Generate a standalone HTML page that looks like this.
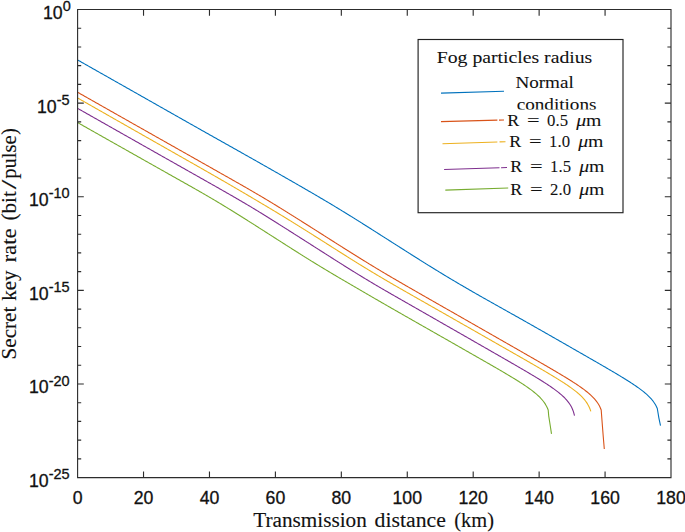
<!DOCTYPE html>
<html><head><meta charset="utf-8"><title>Secret key rate vs transmission distance</title>
<style>
html,body{margin:0;padding:0;background:#fff;}
body{width:685px;height:532px;overflow:hidden;font-family:"Liberation Sans",sans-serif;}
svg{display:block;}
.sans{font-family:"Liberation Sans",sans-serif;}
.serif{font-family:"Liberation Serif",serif;}
</style></head><body>
<svg width="685" height="532" viewBox="0 0 685 532">
<rect width="685" height="532" fill="#fff"/>
<g fill="none" stroke-width="1.1" stroke-linejoin="round" stroke-linecap="butt">
<path d="M77.50,59.90 L78.50,60.47 L79.50,61.03 L80.50,61.60 L81.50,62.17 L82.50,62.73 L83.50,63.30 L84.50,63.86 L85.50,64.43 L86.50,65.00 L87.50,65.56 L88.50,66.13 L89.50,66.70 L90.50,67.26 L91.50,67.83 L92.50,68.40 L93.50,68.96 L94.50,69.53 L95.50,70.09 L96.50,70.66 L97.50,71.23 L98.50,71.79 L99.50,72.36 L100.50,72.93 L101.50,73.49 L102.50,74.06 L103.50,74.63 L104.50,75.19 L105.50,75.76 L106.50,76.32 L107.50,76.89 L108.50,77.46 L109.50,78.02 L110.50,78.59 L111.50,79.16 L112.50,79.72 L113.50,80.29 L114.50,80.86 L115.50,81.42 L116.50,81.99 L117.50,82.56 L118.50,83.12 L119.50,83.69 L120.50,84.25 L121.50,84.82 L122.50,85.39 L123.50,85.95 L124.50,86.52 L125.50,87.09 L126.50,87.65 L127.50,88.22 L128.50,88.79 L129.50,89.35 L130.50,89.92 L131.50,90.49 L132.50,91.05 L133.50,91.62 L134.50,92.19 L135.50,92.75 L136.50,93.32 L137.50,93.89 L138.50,94.45 L139.50,95.02 L140.50,95.59 L141.50,96.15 L142.50,96.72 L143.50,97.29 L144.50,97.85 L145.50,98.42 L146.50,98.99 L147.50,99.56 L148.50,100.12 L149.50,100.69 L150.50,101.26 L151.50,101.82 L152.50,102.39 L153.50,102.96 L154.50,103.52 L155.50,104.09 L156.50,104.66 L157.50,105.23 L158.50,105.79 L159.50,106.36 L160.50,106.93 L161.50,107.50 L162.50,108.06 L163.50,108.63 L164.50,109.20 L165.50,109.76 L166.50,110.33 L167.50,110.90 L168.50,111.47 L169.50,112.03 L170.50,112.60 L171.50,113.17 L172.50,113.73 L173.50,114.30 L174.50,114.87 L175.50,115.43 L176.50,116.00 L177.50,116.57 L178.50,117.14 L179.50,117.70 L180.50,118.27 L181.50,118.84 L182.50,119.40 L183.50,119.97 L184.50,120.53 L185.50,121.10 L186.50,121.67 L187.50,122.23 L188.50,122.80 L189.50,123.37 L190.50,123.93 L191.50,124.50 L192.50,125.06 L193.50,125.63 L194.50,126.19 L195.50,126.76 L196.50,127.32 L197.50,127.89 L198.50,128.45 L199.50,129.02 L200.50,129.58 L201.50,130.15 L202.50,130.71 L203.50,131.28 L204.50,131.84 L205.50,132.40 L206.50,132.97 L207.50,133.53 L208.50,134.09 L209.50,134.66 L210.50,135.22 L211.50,135.78 L212.50,136.35 L213.50,136.91 L214.50,137.47 L215.50,138.04 L216.50,138.60 L217.50,139.16 L218.50,139.72 L219.50,140.29 L220.50,140.85 L221.50,141.41 L222.50,141.97 L223.50,142.54 L224.50,143.10 L225.50,143.66 L226.50,144.22 L227.50,144.79 L228.50,145.35 L229.50,145.91 L230.50,146.47 L231.50,147.04 L232.50,147.60 L233.50,148.16 L234.50,148.72 L235.50,149.29 L236.50,149.85 L237.50,150.41 L238.50,150.98 L239.50,151.54 L240.50,152.10 L241.50,152.67 L242.50,153.23 L243.50,153.79 L244.50,154.36 L245.50,154.92 L246.50,155.49 L247.50,156.05 L248.50,156.62 L249.50,157.18 L250.50,157.74 L251.50,158.31 L252.50,158.88 L253.50,159.44 L254.50,160.01 L255.50,160.57 L256.50,161.14 L257.50,161.70 L258.50,162.27 L259.50,162.84 L260.50,163.40 L261.50,163.97 L262.50,164.54 L263.50,165.11 L264.50,165.67 L265.50,166.24 L266.50,166.81 L267.50,167.38 L268.50,167.95 L269.50,168.51 L270.50,169.08 L271.50,169.65 L272.50,170.22 L273.50,170.79 L274.50,171.36 L275.50,171.93 L276.50,172.50 L277.50,173.07 L278.50,173.64 L279.50,174.22 L280.50,174.79 L281.50,175.36 L282.50,175.93 L283.50,176.50 L284.50,177.07 L285.50,177.65 L286.50,178.22 L287.50,178.79 L288.50,179.37 L289.50,179.94 L290.50,180.51 L291.50,181.09 L292.50,181.66 L293.50,182.24 L294.50,182.81 L295.50,183.39 L296.50,183.96 L297.50,184.54 L298.50,185.12 L299.50,185.69 L300.50,186.27 L301.50,186.85 L302.50,187.43 L303.50,188.00 L304.50,188.58 L305.50,189.16 L306.50,189.74 L307.50,190.32 L308.50,190.90 L309.50,191.48 L310.50,192.06 L311.50,192.65 L312.50,193.23 L313.50,193.81 L314.50,194.39 L315.50,194.98 L316.50,195.56 L317.50,196.15 L318.50,196.74 L319.50,197.32 L320.50,197.91 L321.50,198.50 L322.50,199.09 L323.50,199.68 L324.50,200.27 L325.50,200.87 L326.50,201.46 L327.50,202.05 L328.50,202.65 L329.50,203.25 L330.50,203.84 L331.50,204.44 L332.50,205.04 L333.50,205.64 L334.50,206.24 L335.50,206.85 L336.50,207.45 L337.50,208.05 L338.50,208.66 L339.50,209.27 L340.50,209.88 L341.50,210.49 L342.50,211.10 L343.50,211.71 L344.50,212.32 L345.50,212.94 L346.50,213.55 L347.50,214.17 L348.50,214.79 L349.50,215.41 L350.50,216.02 L351.50,216.65 L352.50,217.27 L353.50,217.89 L354.50,218.51 L355.50,219.14 L356.50,219.76 L357.50,220.39 L358.50,221.02 L359.50,221.64 L360.50,222.27 L361.50,222.90 L362.50,223.53 L363.50,224.16 L364.50,224.79 L365.50,225.43 L366.50,226.06 L367.50,226.69 L368.50,227.32 L369.50,227.96 L370.50,228.59 L371.50,229.23 L372.50,229.86 L373.50,230.50 L374.50,231.13 L375.50,231.77 L376.50,232.40 L377.50,233.04 L378.50,233.68 L379.50,234.31 L380.50,234.95 L381.50,235.59 L382.50,236.22 L383.50,236.86 L384.50,237.50 L385.50,238.13 L386.50,238.77 L387.50,239.41 L388.50,240.04 L389.50,240.68 L390.50,241.32 L391.50,241.95 L392.50,242.59 L393.50,243.23 L394.50,243.86 L395.50,244.50 L396.50,245.14 L397.50,245.77 L398.50,246.41 L399.50,247.05 L400.50,247.68 L401.50,248.32 L402.50,248.96 L403.50,249.59 L404.50,250.23 L405.50,250.86 L406.50,251.50 L407.50,252.13 L408.50,252.77 L409.50,253.40 L410.50,254.04 L411.50,254.67 L412.50,255.30 L413.50,255.94 L414.50,256.57 L415.50,257.20 L416.50,257.83 L417.50,258.46 L418.50,259.09 L419.50,259.72 L420.50,260.35 L421.50,260.98 L422.50,261.61 L423.50,262.23 L424.50,262.86 L425.50,263.48 L426.50,264.11 L427.50,264.73 L428.50,265.35 L429.50,265.97 L430.50,266.59 L431.50,267.21 L432.50,267.83 L433.50,268.45 L434.50,269.06 L435.50,269.68 L436.50,270.29 L437.50,270.90 L438.50,271.52 L439.50,272.13 L440.50,272.74 L441.50,273.34 L442.50,273.95 L443.50,274.56 L444.50,275.16 L445.50,275.76 L446.50,276.37 L447.50,276.97 L448.50,277.57 L449.50,278.17 L450.50,278.76 L451.50,279.36 L452.50,279.96 L453.50,280.55 L454.50,281.14 L455.50,281.74 L456.50,282.33 L457.50,282.92 L458.50,283.51 L459.50,284.10 L460.50,284.68 L461.50,285.27 L462.50,285.85 L463.50,286.44 L464.50,287.02 L465.50,287.60 L466.50,288.18 L467.50,288.77 L468.50,289.34 L469.50,289.92 L470.50,290.50 L471.50,291.08 L472.50,291.65 L473.50,292.23 L474.50,292.80 L475.50,293.38 L476.50,293.95 L477.50,294.52 L478.50,295.09 L479.50,295.66 L480.50,296.23 L481.50,296.80 L482.50,297.37 L483.50,297.94 L484.50,298.50 L485.50,299.07 L486.50,299.64 L487.50,300.20 L488.50,300.76 L489.50,301.33 L490.50,301.89 L491.50,302.46 L492.50,303.02 L493.50,303.58 L494.50,304.14 L495.50,304.70 L496.50,305.26 L497.50,305.83 L498.50,306.39 L499.50,306.95 L500.50,307.51 L501.50,308.07 L502.50,308.63 L503.50,309.19 L504.50,309.75 L505.50,310.31 L506.50,310.87 L507.50,311.43 L508.50,311.99 L509.50,312.55 L510.50,313.11 L511.50,313.67 L512.50,314.23 L513.50,314.79 L514.50,315.35 L515.50,315.91 L516.50,316.48 L517.50,317.04 L518.50,317.60 L519.50,318.16 L520.50,318.73 L521.50,319.29 L522.50,319.85 L523.50,320.42 L524.50,320.98 L525.50,321.55 L526.50,322.11 L527.50,322.68 L528.50,323.25 L529.50,323.81 L530.50,324.38 L531.50,324.95 L532.50,325.51 L533.50,326.08 L534.50,326.65 L535.50,327.22 L536.50,327.79 L537.50,328.36 L538.50,328.93 L539.50,329.49 L540.50,330.06 L541.50,330.63 L542.50,331.20 L543.50,331.77 L544.50,332.34 L545.50,332.92 L546.50,333.49 L547.50,334.06 L548.50,334.63 L549.50,335.20 L550.50,335.77 L551.50,336.34 L552.50,336.91 L553.50,337.48 L554.50,338.06 L555.50,338.63 L556.50,339.20 L557.50,339.77 L558.50,340.34 L559.50,340.92 L560.50,341.49 L561.50,342.06 L562.50,342.63 L563.50,343.20 L564.50,343.78 L565.50,344.35 L566.50,344.92 L567.50,345.49 L568.50,346.07 L569.50,346.64 L570.50,347.21 L571.50,347.79 L572.50,348.36 L573.50,348.93 L574.50,349.50 L575.50,350.08 L576.50,350.65 L577.50,351.22 L578.50,351.80 L579.50,352.37 L580.50,352.94 L581.50,353.52 L582.50,354.09 L583.50,354.67 L584.50,355.24 L585.50,355.81 L586.50,356.39 L587.50,356.96 L588.50,357.53 L589.50,358.11 L590.50,358.68 L591.50,359.26 L592.50,359.83 L593.50,360.41 L594.50,360.98 L595.50,361.56 L596.50,362.14 L597.50,362.71 L598.50,363.29 L599.50,363.87 L600.50,364.45 L601.50,365.02 L602.50,365.61 L603.50,366.19 L604.50,366.77 L605.50,367.35 L606.50,367.94 L607.50,368.52 L608.50,369.11 L609.50,369.69 L610.50,370.28 L611.50,370.87 L612.50,371.46 L613.50,372.05 L614.50,372.64 L615.50,373.24 L616.50,373.83 L617.50,374.43 L618.50,375.03 L619.50,375.63 L620.50,376.24 L621.50,376.85 L622.50,377.46 L623.50,378.07 L624.50,378.69 L625.50,379.31 L626.50,379.93 L627.50,380.56 L628.50,381.19 L629.50,381.83 L630.50,382.47 L631.50,383.12 L632.50,383.78 L633.50,384.44 L634.50,385.11 L635.50,385.79 L636.50,386.48 L637.50,387.18 L638.50,387.89 L639.50,388.62 L640.50,389.36 L641.50,390.11 L642.50,390.88 L643.50,391.67 L644.50,392.49 L645.50,393.33 L646.50,394.20 L647.50,395.11 L648.50,396.06 L649.50,397.05 L650.50,398.11 L651.50,399.23 L652.50,400.43 L653.50,401.74 L654.50,403.19 L655.50,404.82 L656.50,406.70 L657.30,408.47 L658.90,418.10 L660.50,425.60" stroke="#0072BD"/>
<path d="M77.50,92.20 L78.50,92.77 L79.50,93.33 L80.50,93.90 L81.50,94.47 L82.50,95.03 L83.50,95.60 L84.50,96.17 L85.50,96.73 L86.50,97.30 L87.50,97.87 L88.50,98.43 L89.50,99.00 L90.50,99.57 L91.50,100.13 L92.50,100.70 L93.50,101.27 L94.50,101.83 L95.50,102.40 L96.50,102.97 L97.50,103.53 L98.50,104.10 L99.50,104.67 L100.50,105.23 L101.50,105.80 L102.50,106.37 L103.50,106.93 L104.50,107.50 L105.50,108.07 L106.50,108.63 L107.50,109.20 L108.50,109.77 L109.50,110.33 L110.50,110.90 L111.50,111.47 L112.50,112.03 L113.50,112.60 L114.50,113.16 L115.50,113.73 L116.50,114.30 L117.50,114.86 L118.50,115.43 L119.50,116.00 L120.50,116.56 L121.50,117.13 L122.50,117.69 L123.50,118.26 L124.50,118.83 L125.50,119.39 L126.50,119.96 L127.50,120.53 L128.50,121.09 L129.50,121.66 L130.50,122.22 L131.50,122.79 L132.50,123.36 L133.50,123.92 L134.50,124.49 L135.50,125.05 L136.50,125.62 L137.50,126.18 L138.50,126.75 L139.50,127.32 L140.50,127.88 L141.50,128.45 L142.50,129.01 L143.50,129.58 L144.50,130.14 L145.50,130.71 L146.50,131.28 L147.50,131.84 L148.50,132.41 L149.50,132.97 L150.50,133.54 L151.50,134.10 L152.50,134.67 L153.50,135.23 L154.50,135.80 L155.50,136.36 L156.50,136.93 L157.50,137.49 L158.50,138.06 L159.50,138.62 L160.50,139.19 L161.50,139.76 L162.50,140.32 L163.50,140.89 L164.50,141.45 L165.50,142.02 L166.50,142.58 L167.50,143.15 L168.50,143.71 L169.50,144.28 L170.50,144.84 L171.50,145.41 L172.50,145.97 L173.50,146.54 L174.50,147.10 L175.50,147.67 L176.50,148.23 L177.50,148.80 L178.50,149.36 L179.50,149.93 L180.50,150.49 L181.50,151.06 L182.50,151.62 L183.50,152.19 L184.50,152.75 L185.50,153.32 L186.50,153.88 L187.50,154.45 L188.50,155.01 L189.50,155.58 L190.50,156.14 L191.50,156.71 L192.50,157.27 L193.50,157.84 L194.50,158.40 L195.50,158.97 L196.50,159.53 L197.50,160.10 L198.50,160.67 L199.50,161.23 L200.50,161.80 L201.50,162.36 L202.50,162.93 L203.50,163.49 L204.50,164.06 L205.50,164.62 L206.50,165.19 L207.50,165.76 L208.50,166.32 L209.50,166.89 L210.50,167.45 L211.50,168.02 L212.50,168.58 L213.50,169.15 L214.50,169.72 L215.50,170.28 L216.50,170.85 L217.50,171.41 L218.50,171.98 L219.50,172.55 L220.50,173.11 L221.50,173.68 L222.50,174.24 L223.50,174.81 L224.50,175.38 L225.50,175.94 L226.50,176.51 L227.50,177.07 L228.50,177.64 L229.50,178.21 L230.50,178.77 L231.50,179.34 L232.50,179.91 L233.50,180.48 L234.50,181.04 L235.50,181.61 L236.50,182.18 L237.50,182.75 L238.50,183.32 L239.50,183.89 L240.50,184.46 L241.50,185.03 L242.50,185.60 L243.50,186.17 L244.50,186.74 L245.50,187.32 L246.50,187.89 L247.50,188.47 L248.50,189.04 L249.50,189.62 L250.50,190.20 L251.50,190.78 L252.50,191.36 L253.50,191.94 L254.50,192.52 L255.50,193.11 L256.50,193.69 L257.50,194.28 L258.50,194.87 L259.50,195.46 L260.50,196.05 L261.50,196.64 L262.50,197.24 L263.50,197.83 L264.50,198.43 L265.50,199.02 L266.50,199.62 L267.50,200.22 L268.50,200.83 L269.50,201.43 L270.50,202.04 L271.50,202.64 L272.50,203.25 L273.50,203.86 L274.50,204.47 L275.50,205.08 L276.50,205.69 L277.50,206.31 L278.50,206.92 L279.50,207.54 L280.50,208.15 L281.50,208.77 L282.50,209.39 L283.50,210.01 L284.50,210.63 L285.50,211.25 L286.50,211.87 L287.50,212.50 L288.50,213.12 L289.50,213.74 L290.50,214.37 L291.50,215.00 L292.50,215.62 L293.50,216.25 L294.50,216.88 L295.50,217.50 L296.50,218.13 L297.50,218.76 L298.50,219.39 L299.50,220.02 L300.50,220.65 L301.50,221.28 L302.50,221.91 L303.50,222.54 L304.50,223.17 L305.50,223.80 L306.50,224.43 L307.50,225.07 L308.50,225.70 L309.50,226.33 L310.50,226.96 L311.50,227.60 L312.50,228.23 L313.50,228.86 L314.50,229.50 L315.50,230.13 L316.50,230.77 L317.50,231.40 L318.50,232.04 L319.50,232.67 L320.50,233.31 L321.50,233.94 L322.50,234.58 L323.50,235.21 L324.50,235.85 L325.50,236.48 L326.50,237.12 L327.50,237.76 L328.50,238.39 L329.50,239.03 L330.50,239.66 L331.50,240.30 L332.50,240.93 L333.50,241.57 L334.50,242.20 L335.50,242.84 L336.50,243.47 L337.50,244.11 L338.50,244.74 L339.50,245.38 L340.50,246.01 L341.50,246.64 L342.50,247.28 L343.50,247.91 L344.50,248.54 L345.50,249.17 L346.50,249.80 L347.50,250.43 L348.50,251.06 L349.50,251.69 L350.50,252.32 L351.50,252.95 L352.50,253.57 L353.50,254.20 L354.50,254.83 L355.50,255.45 L356.50,256.08 L357.50,256.70 L358.50,257.32 L359.50,257.94 L360.50,258.56 L361.50,259.18 L362.50,259.80 L363.50,260.42 L364.50,261.03 L365.50,261.65 L366.50,262.26 L367.50,262.88 L368.50,263.49 L369.50,264.10 L370.50,264.71 L371.50,265.32 L372.50,265.93 L373.50,266.53 L374.50,267.14 L375.50,267.74 L376.50,268.35 L377.50,268.95 L378.50,269.55 L379.50,270.15 L380.50,270.75 L381.50,271.35 L382.50,271.94 L383.50,272.54 L384.50,273.13 L385.50,273.72 L386.50,274.32 L387.50,274.91 L388.50,275.50 L389.50,276.09 L390.50,276.68 L391.50,277.26 L392.50,277.85 L393.50,278.43 L394.50,279.02 L395.50,279.60 L396.50,280.18 L397.50,280.77 L398.50,281.35 L399.50,281.93 L400.50,282.51 L401.50,283.09 L402.50,283.67 L403.50,284.24 L404.50,284.82 L405.50,285.40 L406.50,285.98 L407.50,286.55 L408.50,287.13 L409.50,287.70 L410.50,288.28 L411.50,288.85 L412.50,289.42 L413.50,290.00 L414.50,290.57 L415.50,291.14 L416.50,291.72 L417.50,292.29 L418.50,292.86 L419.50,293.43 L420.50,294.01 L421.50,294.58 L422.50,295.15 L423.50,295.72 L424.50,296.29 L425.50,296.87 L426.50,297.44 L427.50,298.01 L428.50,298.58 L429.50,299.15 L430.50,299.72 L431.50,300.29 L432.50,300.86 L433.50,301.44 L434.50,302.01 L435.50,302.58 L436.50,303.15 L437.50,303.72 L438.50,304.29 L439.50,304.86 L440.50,305.43 L441.50,306.00 L442.50,306.57 L443.50,307.15 L444.50,307.72 L445.50,308.29 L446.50,308.86 L447.50,309.43 L448.50,310.00 L449.50,310.57 L450.50,311.14 L451.50,311.71 L452.50,312.28 L453.50,312.85 L454.50,313.43 L455.50,314.00 L456.50,314.57 L457.50,315.14 L458.50,315.71 L459.50,316.28 L460.50,316.85 L461.50,317.42 L462.50,317.99 L463.50,318.56 L464.50,319.14 L465.50,319.71 L466.50,320.28 L467.50,320.85 L468.50,321.42 L469.50,321.99 L470.50,322.56 L471.50,323.13 L472.50,323.70 L473.50,324.27 L474.50,324.85 L475.50,325.42 L476.50,325.99 L477.50,326.56 L478.50,327.13 L479.50,327.70 L480.50,328.27 L481.50,328.84 L482.50,329.41 L483.50,329.99 L484.50,330.56 L485.50,331.13 L486.50,331.70 L487.50,332.27 L488.50,332.84 L489.50,333.41 L490.50,333.98 L491.50,334.55 L492.50,335.13 L493.50,335.70 L494.50,336.27 L495.50,336.84 L496.50,337.41 L497.50,337.98 L498.50,338.55 L499.50,339.13 L500.50,339.70 L501.50,340.27 L502.50,340.84 L503.50,341.41 L504.50,341.99 L505.50,342.56 L506.50,343.13 L507.50,343.70 L508.50,344.27 L509.50,344.85 L510.50,345.42 L511.50,345.99 L512.50,346.56 L513.50,347.13 L514.50,347.71 L515.50,348.28 L516.50,348.85 L517.50,349.42 L518.50,350.00 L519.50,350.57 L520.50,351.14 L521.50,351.72 L522.50,352.29 L523.50,352.86 L524.50,353.43 L525.50,354.01 L526.50,354.58 L527.50,355.15 L528.50,355.73 L529.50,356.30 L530.50,356.87 L531.50,357.45 L532.50,358.02 L533.50,358.60 L534.50,359.17 L535.50,359.74 L536.50,360.32 L537.50,360.89 L538.50,361.47 L539.50,362.04 L540.50,362.62 L541.50,363.20 L542.50,363.77 L543.50,364.35 L544.50,364.93 L545.50,365.51 L546.50,366.09 L547.50,366.67 L548.50,367.25 L549.50,367.84 L550.50,368.42 L551.50,369.00 L552.50,369.59 L553.50,370.18 L554.50,370.77 L555.50,371.35 L556.50,371.94 L557.50,372.54 L558.50,373.13 L559.50,373.72 L560.50,374.32 L561.50,374.92 L562.50,375.52 L563.50,376.13 L564.50,376.73 L565.50,377.34 L566.50,377.95 L567.50,378.57 L568.50,379.19 L569.50,379.81 L570.50,380.43 L571.50,381.07 L572.50,381.70 L573.50,382.34 L574.50,382.99 L575.50,383.64 L576.50,384.30 L577.50,384.97 L578.50,385.65 L579.50,386.33 L580.50,387.03 L581.50,387.73 L582.50,388.45 L583.50,389.18 L584.50,389.93 L585.50,390.70 L586.50,391.48 L587.50,392.29 L588.50,393.12 L589.50,393.98 L590.50,394.87 L591.50,395.81 L592.50,396.78 L593.50,397.81 L594.50,398.90 L595.50,400.08 L596.50,401.34 L597.50,402.74 L598.50,404.29 L599.50,406.07 L600.50,408.18 L601.20,409.94 L602.20,423.30 L603.20,436.00 L604.30,449.00" stroke="#D95319"/>
<path d="M77.50,97.90 L78.50,98.47 L79.50,99.04 L80.50,99.61 L81.50,100.18 L82.50,100.75 L83.50,101.32 L84.50,101.89 L85.50,102.46 L86.50,103.03 L87.50,103.60 L88.50,104.17 L89.50,104.74 L90.50,105.31 L91.50,105.88 L92.50,106.45 L93.50,107.02 L94.50,107.59 L95.50,108.16 L96.50,108.73 L97.50,109.30 L98.50,109.87 L99.50,110.44 L100.50,111.00 L101.50,111.57 L102.50,112.14 L103.50,112.71 L104.50,113.28 L105.50,113.85 L106.50,114.42 L107.50,114.99 L108.50,115.56 L109.50,116.13 L110.50,116.70 L111.50,117.27 L112.50,117.84 L113.50,118.41 L114.50,118.98 L115.50,119.55 L116.50,120.12 L117.50,120.69 L118.50,121.26 L119.50,121.82 L120.50,122.39 L121.50,122.96 L122.50,123.53 L123.50,124.10 L124.50,124.67 L125.50,125.24 L126.50,125.81 L127.50,126.38 L128.50,126.95 L129.50,127.52 L130.50,128.08 L131.50,128.65 L132.50,129.22 L133.50,129.79 L134.50,130.36 L135.50,130.93 L136.50,131.50 L137.50,132.07 L138.50,132.64 L139.50,133.20 L140.50,133.77 L141.50,134.34 L142.50,134.91 L143.50,135.48 L144.50,136.05 L145.50,136.62 L146.50,137.18 L147.50,137.75 L148.50,138.32 L149.50,138.89 L150.50,139.46 L151.50,140.03 L152.50,140.59 L153.50,141.16 L154.50,141.73 L155.50,142.30 L156.50,142.87 L157.50,143.43 L158.50,144.00 L159.50,144.57 L160.50,145.14 L161.50,145.71 L162.50,146.27 L163.50,146.84 L164.50,147.41 L165.50,147.98 L166.50,148.55 L167.50,149.11 L168.50,149.68 L169.50,150.25 L170.50,150.82 L171.50,151.39 L172.50,151.95 L173.50,152.52 L174.50,153.09 L175.50,153.66 L176.50,154.23 L177.50,154.79 L178.50,155.36 L179.50,155.93 L180.50,156.50 L181.50,157.07 L182.50,157.63 L183.50,158.20 L184.50,158.77 L185.50,159.34 L186.50,159.91 L187.50,160.48 L188.50,161.04 L189.50,161.61 L190.50,162.18 L191.50,162.75 L192.50,163.32 L193.50,163.89 L194.50,164.46 L195.50,165.02 L196.50,165.59 L197.50,166.16 L198.50,166.73 L199.50,167.30 L200.50,167.87 L201.50,168.44 L202.50,169.01 L203.50,169.58 L204.50,170.15 L205.50,170.72 L206.50,171.29 L207.50,171.86 L208.50,172.44 L209.50,173.01 L210.50,173.58 L211.50,174.15 L212.50,174.72 L213.50,175.30 L214.50,175.87 L215.50,176.44 L216.50,177.02 L217.50,177.59 L218.50,178.17 L219.50,178.74 L220.50,179.32 L221.50,179.90 L222.50,180.47 L223.50,181.05 L224.50,181.63 L225.50,182.21 L226.50,182.79 L227.50,183.37 L228.50,183.95 L229.50,184.53 L230.50,185.11 L231.50,185.69 L232.50,186.28 L233.50,186.86 L234.50,187.44 L235.50,188.03 L236.50,188.61 L237.50,189.20 L238.50,189.78 L239.50,190.37 L240.50,190.96 L241.50,191.54 L242.50,192.13 L243.50,192.72 L244.50,193.31 L245.50,193.89 L246.50,194.48 L247.50,195.07 L248.50,195.66 L249.50,196.25 L250.50,196.84 L251.50,197.43 L252.50,198.02 L253.50,198.61 L254.50,199.20 L255.50,199.80 L256.50,200.39 L257.50,200.98 L258.50,201.57 L259.50,202.17 L260.50,202.76 L261.50,203.35 L262.50,203.95 L263.50,204.54 L264.50,205.14 L265.50,205.74 L266.50,206.33 L267.50,206.93 L268.50,207.53 L269.50,208.13 L270.50,208.73 L271.50,209.33 L272.50,209.93 L273.50,210.53 L274.50,211.13 L275.50,211.74 L276.50,212.34 L277.50,212.95 L278.50,213.55 L279.50,214.16 L280.50,214.77 L281.50,215.37 L282.50,215.98 L283.50,216.59 L284.50,217.20 L285.50,217.82 L286.50,218.43 L287.50,219.04 L288.50,219.66 L289.50,220.27 L290.50,220.89 L291.50,221.51 L292.50,222.13 L293.50,222.74 L294.50,223.36 L295.50,223.99 L296.50,224.61 L297.50,225.23 L298.50,225.85 L299.50,226.48 L300.50,227.10 L301.50,227.72 L302.50,228.35 L303.50,228.98 L304.50,229.60 L305.50,230.23 L306.50,230.86 L307.50,231.49 L308.50,232.12 L309.50,232.75 L310.50,233.38 L311.50,234.01 L312.50,234.64 L313.50,235.28 L314.50,235.91 L315.50,236.54 L316.50,237.18 L317.50,237.81 L318.50,238.44 L319.50,239.08 L320.50,239.71 L321.50,240.35 L322.50,240.98 L323.50,241.62 L324.50,242.26 L325.50,242.89 L326.50,243.53 L327.50,244.17 L328.50,244.80 L329.50,245.44 L330.50,246.07 L331.50,246.71 L332.50,247.35 L333.50,247.98 L334.50,248.62 L335.50,249.26 L336.50,249.89 L337.50,250.53 L338.50,251.16 L339.50,251.80 L340.50,252.43 L341.50,253.06 L342.50,253.70 L343.50,254.33 L344.50,254.96 L345.50,255.59 L346.50,256.22 L347.50,256.85 L348.50,257.48 L349.50,258.11 L350.50,258.74 L351.50,259.37 L352.50,259.99 L353.50,260.62 L354.50,261.24 L355.50,261.87 L356.50,262.49 L357.50,263.11 L358.50,263.73 L359.50,264.35 L360.50,264.97 L361.50,265.59 L362.50,266.20 L363.50,266.82 L364.50,267.43 L365.50,268.04 L366.50,268.65 L367.50,269.26 L368.50,269.87 L369.50,270.48 L370.50,271.08 L371.50,271.68 L372.50,272.29 L373.50,272.89 L374.50,273.49 L375.50,274.09 L376.50,274.68 L377.50,275.28 L378.50,275.87 L379.50,276.47 L380.50,277.06 L381.50,277.65 L382.50,278.24 L383.50,278.83 L384.50,279.41 L385.50,280.00 L386.50,280.58 L387.50,281.17 L388.50,281.75 L389.50,282.33 L390.50,282.91 L391.50,283.49 L392.50,284.07 L393.50,284.65 L394.50,285.23 L395.50,285.80 L396.50,286.38 L397.50,286.96 L398.50,287.53 L399.50,288.11 L400.50,288.68 L401.50,289.25 L402.50,289.83 L403.50,290.40 L404.50,290.97 L405.50,291.54 L406.50,292.12 L407.50,292.69 L408.50,293.26 L409.50,293.83 L410.50,294.40 L411.50,294.97 L412.50,295.54 L413.50,296.11 L414.50,296.68 L415.50,297.26 L416.50,297.83 L417.50,298.40 L418.50,298.97 L419.50,299.54 L420.50,300.11 L421.50,300.68 L422.50,301.25 L423.50,301.82 L424.50,302.39 L425.50,302.96 L426.50,303.53 L427.50,304.10 L428.50,304.67 L429.50,305.24 L430.50,305.81 L431.50,306.38 L432.50,306.95 L433.50,307.52 L434.50,308.09 L435.50,308.66 L436.50,309.23 L437.50,309.80 L438.50,310.37 L439.50,310.93 L440.50,311.50 L441.50,312.07 L442.50,312.64 L443.50,313.21 L444.50,313.78 L445.50,314.35 L446.50,314.92 L447.50,315.49 L448.50,316.06 L449.50,316.63 L450.50,317.20 L451.50,317.77 L452.50,318.34 L453.50,318.91 L454.50,319.48 L455.50,320.05 L456.50,320.62 L457.50,321.19 L458.50,321.76 L459.50,322.33 L460.50,322.90 L461.50,323.47 L462.50,324.04 L463.50,324.61 L464.50,325.18 L465.50,325.75 L466.50,326.32 L467.50,326.89 L468.50,327.46 L469.50,328.03 L470.50,328.60 L471.50,329.17 L472.50,329.74 L473.50,330.31 L474.50,330.88 L475.50,331.45 L476.50,332.02 L477.50,332.59 L478.50,333.16 L479.50,333.73 L480.50,334.30 L481.50,334.87 L482.50,335.45 L483.50,336.02 L484.50,336.59 L485.50,337.16 L486.50,337.73 L487.50,338.30 L488.50,338.87 L489.50,339.44 L490.50,340.01 L491.50,340.58 L492.50,341.15 L493.50,341.72 L494.50,342.29 L495.50,342.86 L496.50,343.43 L497.50,344.00 L498.50,344.58 L499.50,345.15 L500.50,345.72 L501.50,346.29 L502.50,346.86 L503.50,347.43 L504.50,348.00 L505.50,348.58 L506.50,349.15 L507.50,349.72 L508.50,350.29 L509.50,350.86 L510.50,351.43 L511.50,352.01 L512.50,352.58 L513.50,353.15 L514.50,353.72 L515.50,354.29 L516.50,354.87 L517.50,355.44 L518.50,356.01 L519.50,356.58 L520.50,357.16 L521.50,357.73 L522.50,358.30 L523.50,358.88 L524.50,359.45 L525.50,360.02 L526.50,360.60 L527.50,361.17 L528.50,361.75 L529.50,362.32 L530.50,362.90 L531.50,363.47 L532.50,364.05 L533.50,364.62 L534.50,365.20 L535.50,365.78 L536.50,366.36 L537.50,366.94 L538.50,367.52 L539.50,368.11 L540.50,368.69 L541.50,369.28 L542.50,369.86 L543.50,370.45 L544.50,371.04 L545.50,371.63 L546.50,372.22 L547.50,372.81 L548.50,373.41 L549.50,374.00 L550.50,374.60 L551.50,375.20 L552.50,375.80 L553.50,376.41 L554.50,377.01 L555.50,377.62 L556.50,378.24 L557.50,378.86 L558.50,379.48 L559.50,380.10 L560.50,380.73 L561.50,381.37 L562.50,382.01 L563.50,382.65 L564.50,383.31 L565.50,383.97 L566.50,384.63 L567.50,385.31 L568.50,385.99 L569.50,386.68 L570.50,387.39 L571.50,388.11 L572.50,388.84 L573.50,389.59 L574.50,390.35 L575.50,391.13 L576.50,391.94 L577.50,392.77 L578.50,393.63 L579.50,394.52 L580.50,395.45 L581.50,396.43 L582.50,397.45 L583.50,398.55 L584.50,399.71 L585.50,400.98 L586.50,402.37 L587.50,403.92 L588.50,405.70 L589.50,407.79 L590.50,410.42 L590.80,411.33" stroke="#EDB120"/>
<path d="M77.50,108.30 L78.50,108.87 L79.50,109.43 L80.50,110.00 L81.50,110.57 L82.50,111.13 L83.50,111.70 L84.50,112.27 L85.50,112.83 L86.50,113.40 L87.50,113.97 L88.50,114.53 L89.50,115.10 L90.50,115.67 L91.50,116.23 L92.50,116.80 L93.50,117.37 L94.50,117.93 L95.50,118.50 L96.50,119.07 L97.50,119.63 L98.50,120.20 L99.50,120.77 L100.50,121.33 L101.50,121.90 L102.50,122.47 L103.50,123.03 L104.50,123.60 L105.50,124.17 L106.50,124.73 L107.50,125.30 L108.50,125.87 L109.50,126.43 L110.50,127.00 L111.50,127.57 L112.50,128.13 L113.50,128.70 L114.50,129.26 L115.50,129.83 L116.50,130.40 L117.50,130.96 L118.50,131.53 L119.50,132.10 L120.50,132.66 L121.50,133.23 L122.50,133.79 L123.50,134.36 L124.50,134.93 L125.50,135.49 L126.50,136.06 L127.50,136.63 L128.50,137.19 L129.50,137.76 L130.50,138.32 L131.50,138.89 L132.50,139.46 L133.50,140.02 L134.50,140.59 L135.50,141.15 L136.50,141.72 L137.50,142.28 L138.50,142.85 L139.50,143.42 L140.50,143.98 L141.50,144.55 L142.50,145.11 L143.50,145.68 L144.50,146.24 L145.50,146.81 L146.50,147.38 L147.50,147.94 L148.50,148.51 L149.50,149.07 L150.50,149.64 L151.50,150.20 L152.50,150.77 L153.50,151.33 L154.50,151.90 L155.50,152.46 L156.50,153.03 L157.50,153.59 L158.50,154.16 L159.50,154.72 L160.50,155.29 L161.50,155.86 L162.50,156.42 L163.50,156.99 L164.50,157.55 L165.50,158.12 L166.50,158.68 L167.50,159.25 L168.50,159.81 L169.50,160.38 L170.50,160.94 L171.50,161.51 L172.50,162.07 L173.50,162.64 L174.50,163.20 L175.50,163.77 L176.50,164.33 L177.50,164.90 L178.50,165.46 L179.50,166.03 L180.50,166.59 L181.50,167.16 L182.50,167.72 L183.50,168.29 L184.50,168.85 L185.50,169.42 L186.50,169.98 L187.50,170.55 L188.50,171.11 L189.50,171.68 L190.50,172.24 L191.50,172.81 L192.50,173.37 L193.50,173.94 L194.50,174.50 L195.50,175.07 L196.50,175.63 L197.50,176.20 L198.50,176.77 L199.50,177.33 L200.50,177.90 L201.50,178.46 L202.50,179.03 L203.50,179.59 L204.50,180.16 L205.50,180.73 L206.50,181.29 L207.50,181.86 L208.50,182.42 L209.50,182.99 L210.50,183.56 L211.50,184.12 L212.50,184.69 L213.50,185.26 L214.50,185.82 L215.50,186.39 L216.50,186.96 L217.50,187.53 L218.50,188.10 L219.50,188.66 L220.50,189.23 L221.50,189.80 L222.50,190.37 L223.50,190.94 L224.50,191.51 L225.50,192.08 L226.50,192.65 L227.50,193.22 L228.50,193.80 L229.50,194.37 L230.50,194.94 L231.50,195.52 L232.50,196.09 L233.50,196.67 L234.50,197.25 L235.50,197.83 L236.50,198.41 L237.50,198.99 L238.50,199.57 L239.50,200.15 L240.50,200.73 L241.50,201.32 L242.50,201.91 L243.50,202.49 L244.50,203.08 L245.50,203.67 L246.50,204.27 L247.50,204.86 L248.50,205.46 L249.50,206.05 L250.50,206.65 L251.50,207.25 L252.50,207.85 L253.50,208.45 L254.50,209.06 L255.50,209.67 L256.50,210.27 L257.50,210.88 L258.50,211.49 L259.50,212.10 L260.50,212.72 L261.50,213.33 L262.50,213.95 L263.50,214.57 L264.50,215.19 L265.50,215.81 L266.50,216.43 L267.50,217.05 L268.50,217.67 L269.50,218.30 L270.50,218.92 L271.50,219.55 L272.50,220.18 L273.50,220.80 L274.50,221.43 L275.50,222.06 L276.50,222.69 L277.50,223.32 L278.50,223.95 L279.50,224.59 L280.50,225.22 L281.50,225.85 L282.50,226.48 L283.50,227.12 L284.50,227.75 L285.50,228.39 L286.50,229.02 L287.50,229.66 L288.50,230.29 L289.50,230.93 L290.50,231.56 L291.50,232.20 L292.50,232.83 L293.50,233.47 L294.50,234.10 L295.50,234.74 L296.50,235.38 L297.50,236.01 L298.50,236.65 L299.50,237.28 L300.50,237.92 L301.50,238.56 L302.50,239.19 L303.50,239.83 L304.50,240.47 L305.50,241.10 L306.50,241.74 L307.50,242.38 L308.50,243.02 L309.50,243.65 L310.50,244.29 L311.50,244.93 L312.50,245.56 L313.50,246.20 L314.50,246.84 L315.50,247.48 L316.50,248.12 L317.50,248.75 L318.50,249.39 L319.50,250.03 L320.50,250.67 L321.50,251.30 L322.50,251.94 L323.50,252.58 L324.50,253.22 L325.50,253.86 L326.50,254.49 L327.50,255.13 L328.50,255.77 L329.50,256.40 L330.50,257.04 L331.50,257.68 L332.50,258.31 L333.50,258.95 L334.50,259.59 L335.50,260.22 L336.50,260.85 L337.50,261.49 L338.50,262.12 L339.50,262.75 L340.50,263.39 L341.50,264.02 L342.50,264.65 L343.50,265.28 L344.50,265.91 L345.50,266.54 L346.50,267.17 L347.50,267.79 L348.50,268.42 L349.50,269.04 L350.50,269.67 L351.50,270.29 L352.50,270.91 L353.50,271.53 L354.50,272.15 L355.50,272.77 L356.50,273.39 L357.50,274.00 L358.50,274.62 L359.50,275.23 L360.50,275.84 L361.50,276.45 L362.50,277.06 L363.50,277.67 L364.50,278.28 L365.50,278.88 L366.50,279.48 L367.50,280.09 L368.50,280.69 L369.50,281.29 L370.50,281.88 L371.50,282.48 L372.50,283.08 L373.50,283.67 L374.50,284.26 L375.50,284.85 L376.50,285.44 L377.50,286.03 L378.50,286.62 L379.50,287.20 L380.50,287.79 L381.50,288.37 L382.50,288.95 L383.50,289.53 L384.50,290.11 L385.50,290.69 L386.50,291.27 L387.50,291.85 L388.50,292.43 L389.50,293.00 L390.50,293.58 L391.50,294.15 L392.50,294.73 L393.50,295.30 L394.50,295.87 L395.50,296.45 L396.50,297.02 L397.50,297.59 L398.50,298.16 L399.50,298.74 L400.50,299.31 L401.50,299.88 L402.50,300.45 L403.50,301.02 L404.50,301.59 L405.50,302.17 L406.50,302.74 L407.50,303.31 L408.50,303.88 L409.50,304.45 L410.50,305.02 L411.50,305.59 L412.50,306.16 L413.50,306.74 L414.50,307.31 L415.50,307.88 L416.50,308.45 L417.50,309.02 L418.50,309.59 L419.50,310.17 L420.50,310.74 L421.50,311.31 L422.50,311.88 L423.50,312.45 L424.50,313.02 L425.50,313.60 L426.50,314.17 L427.50,314.74 L428.50,315.31 L429.50,315.88 L430.50,316.46 L431.50,317.03 L432.50,317.60 L433.50,318.17 L434.50,318.75 L435.50,319.32 L436.50,319.89 L437.50,320.46 L438.50,321.03 L439.50,321.61 L440.50,322.18 L441.50,322.75 L442.50,323.32 L443.50,323.90 L444.50,324.47 L445.50,325.04 L446.50,325.61 L447.50,326.19 L448.50,326.76 L449.50,327.33 L450.50,327.90 L451.50,328.47 L452.50,329.05 L453.50,329.62 L454.50,330.19 L455.50,330.76 L456.50,331.34 L457.50,331.91 L458.50,332.48 L459.50,333.05 L460.50,333.63 L461.50,334.20 L462.50,334.77 L463.50,335.34 L464.50,335.92 L465.50,336.49 L466.50,337.06 L467.50,337.63 L468.50,338.21 L469.50,338.78 L470.50,339.35 L471.50,339.93 L472.50,340.50 L473.50,341.07 L474.50,341.65 L475.50,342.22 L476.50,342.79 L477.50,343.36 L478.50,343.94 L479.50,344.51 L480.50,345.08 L481.50,345.66 L482.50,346.23 L483.50,346.81 L484.50,347.38 L485.50,347.95 L486.50,348.53 L487.50,349.10 L488.50,349.67 L489.50,350.25 L490.50,350.82 L491.50,351.40 L492.50,351.97 L493.50,352.54 L494.50,353.12 L495.50,353.69 L496.50,354.27 L497.50,354.84 L498.50,355.42 L499.50,355.99 L500.50,356.57 L501.50,357.14 L502.50,357.72 L503.50,358.29 L504.50,358.87 L505.50,359.44 L506.50,360.02 L507.50,360.59 L508.50,361.17 L509.50,361.75 L510.50,362.32 L511.50,362.90 L512.50,363.48 L513.50,364.05 L514.50,364.63 L515.50,365.21 L516.50,365.79 L517.50,366.37 L518.50,366.95 L519.50,367.53 L520.50,368.12 L521.50,368.70 L522.50,369.28 L523.50,369.87 L524.50,370.46 L525.50,371.04 L526.50,371.64 L527.50,372.23 L528.50,372.82 L529.50,373.41 L530.50,374.01 L531.50,374.60 L532.50,375.20 L533.50,375.80 L534.50,376.40 L535.50,377.01 L536.50,377.62 L537.50,378.23 L538.50,378.84 L539.50,379.46 L540.50,380.08 L541.50,380.70 L542.50,381.33 L543.50,381.96 L544.50,382.60 L545.50,383.24 L546.50,383.89 L547.50,384.54 L548.50,385.20 L549.50,385.87 L550.50,386.55 L551.50,387.24 L552.50,387.93 L553.50,388.64 L554.50,389.36 L555.50,390.10 L556.50,390.85 L557.50,391.62 L558.50,392.40 L559.50,393.21 L560.50,394.05 L561.50,394.91 L562.50,395.81 L563.50,396.74 L564.50,397.72 L565.50,398.76 L566.50,399.86 L567.50,401.04 L568.50,402.32 L569.50,403.72 L570.50,405.29 L571.50,407.09 L572.50,409.23 L573.50,411.90 L574.50,415.57" stroke="#7E2F8E"/>
<path d="M77.50,122.50 L78.50,123.06 L79.50,123.63 L80.50,124.20 L81.50,124.76 L82.50,125.33 L83.50,125.90 L84.50,126.46 L85.50,127.03 L86.50,127.60 L87.50,128.16 L88.50,128.73 L89.50,129.29 L90.50,129.86 L91.50,130.43 L92.50,130.99 L93.50,131.56 L94.50,132.13 L95.50,132.69 L96.50,133.26 L97.50,133.82 L98.50,134.39 L99.50,134.95 L100.50,135.52 L101.50,136.09 L102.50,136.65 L103.50,137.22 L104.50,137.78 L105.50,138.35 L106.50,138.91 L107.50,139.48 L108.50,140.04 L109.50,140.61 L110.50,141.17 L111.50,141.74 L112.50,142.30 L113.50,142.87 L114.50,143.43 L115.50,144.00 L116.50,144.56 L117.50,145.13 L118.50,145.69 L119.50,146.26 L120.50,146.82 L121.50,147.39 L122.50,147.95 L123.50,148.51 L124.50,149.08 L125.50,149.64 L126.50,150.21 L127.50,150.77 L128.50,151.34 L129.50,151.90 L130.50,152.46 L131.50,153.03 L132.50,153.59 L133.50,154.16 L134.50,154.72 L135.50,155.28 L136.50,155.85 L137.50,156.41 L138.50,156.98 L139.50,157.54 L140.50,158.10 L141.50,158.67 L142.50,159.23 L143.50,159.80 L144.50,160.36 L145.50,160.92 L146.50,161.49 L147.50,162.05 L148.50,162.62 L149.50,163.18 L150.50,163.75 L151.50,164.31 L152.50,164.87 L153.50,165.44 L154.50,166.00 L155.50,166.57 L156.50,167.13 L157.50,167.69 L158.50,168.26 L159.50,168.82 L160.50,169.39 L161.50,169.95 L162.50,170.51 L163.50,171.08 L164.50,171.64 L165.50,172.21 L166.50,172.77 L167.50,173.33 L168.50,173.90 L169.50,174.46 L170.50,175.02 L171.50,175.59 L172.50,176.15 L173.50,176.71 L174.50,177.27 L175.50,177.84 L176.50,178.40 L177.50,178.96 L178.50,179.53 L179.50,180.09 L180.50,180.65 L181.50,181.21 L182.50,181.78 L183.50,182.34 L184.50,182.90 L185.50,183.47 L186.50,184.03 L187.50,184.59 L188.50,185.16 L189.50,185.72 L190.50,186.29 L191.50,186.85 L192.50,187.42 L193.50,187.98 L194.50,188.55 L195.50,189.12 L196.50,189.69 L197.50,190.26 L198.50,190.83 L199.50,191.40 L200.50,191.97 L201.50,192.55 L202.50,193.12 L203.50,193.70 L204.50,194.28 L205.50,194.86 L206.50,195.44 L207.50,196.02 L208.50,196.61 L209.50,197.19 L210.50,197.78 L211.50,198.37 L212.50,198.96 L213.50,199.55 L214.50,200.14 L215.50,200.74 L216.50,201.33 L217.50,201.93 L218.50,202.53 L219.50,203.13 L220.50,203.73 L221.50,204.34 L222.50,204.94 L223.50,205.55 L224.50,206.16 L225.50,206.77 L226.50,207.38 L227.50,207.99 L228.50,208.61 L229.50,209.22 L230.50,209.84 L231.50,210.46 L232.50,211.08 L233.50,211.70 L234.50,212.32 L235.50,212.94 L236.50,213.56 L237.50,214.19 L238.50,214.81 L239.50,215.44 L240.50,216.06 L241.50,216.69 L242.50,217.32 L243.50,217.95 L244.50,218.58 L245.50,219.21 L246.50,219.84 L247.50,220.47 L248.50,221.10 L249.50,221.74 L250.50,222.37 L251.50,223.00 L252.50,223.64 L253.50,224.27 L254.50,224.91 L255.50,225.54 L256.50,226.18 L257.50,226.82 L258.50,227.45 L259.50,228.09 L260.50,228.73 L261.50,229.37 L262.50,230.01 L263.50,230.64 L264.50,231.28 L265.50,231.92 L266.50,232.56 L267.50,233.20 L268.50,233.84 L269.50,234.48 L270.50,235.12 L271.50,235.76 L272.50,236.40 L273.50,237.04 L274.50,237.68 L275.50,238.32 L276.50,238.96 L277.50,239.60 L278.50,240.24 L279.50,240.88 L280.50,241.52 L281.50,242.16 L282.50,242.80 L283.50,243.44 L284.50,244.07 L285.50,244.71 L286.50,245.35 L287.50,245.99 L288.50,246.63 L289.50,247.26 L290.50,247.90 L291.50,248.54 L292.50,249.17 L293.50,249.81 L294.50,250.44 L295.50,251.08 L296.50,251.71 L297.50,252.34 L298.50,252.98 L299.50,253.61 L300.50,254.24 L301.50,254.87 L302.50,255.50 L303.50,256.12 L304.50,256.75 L305.50,257.38 L306.50,258.00 L307.50,258.62 L308.50,259.25 L309.50,259.87 L310.50,260.49 L311.50,261.11 L312.50,261.72 L313.50,262.34 L314.50,262.96 L315.50,263.57 L316.50,264.18 L317.50,264.79 L318.50,265.40 L319.50,266.01 L320.50,266.62 L321.50,267.22 L322.50,267.83 L323.50,268.43 L324.50,269.03 L325.50,269.64 L326.50,270.24 L327.50,270.83 L328.50,271.43 L329.50,272.03 L330.50,272.62 L331.50,273.22 L332.50,273.81 L333.50,274.41 L334.50,275.00 L335.50,275.59 L336.50,276.18 L337.50,276.77 L338.50,277.36 L339.50,277.95 L340.50,278.53 L341.50,279.12 L342.50,279.71 L343.50,280.30 L344.50,280.88 L345.50,281.47 L346.50,282.05 L347.50,282.64 L348.50,283.22 L349.50,283.81 L350.50,284.39 L351.50,284.98 L352.50,285.56 L353.50,286.14 L354.50,286.73 L355.50,287.31 L356.50,287.89 L357.50,288.48 L358.50,289.06 L359.50,289.64 L360.50,290.22 L361.50,290.81 L362.50,291.39 L363.50,291.97 L364.50,292.55 L365.50,293.13 L366.50,293.71 L367.50,294.30 L368.50,294.88 L369.50,295.46 L370.50,296.04 L371.50,296.62 L372.50,297.20 L373.50,297.78 L374.50,298.36 L375.50,298.94 L376.50,299.52 L377.50,300.09 L378.50,300.67 L379.50,301.25 L380.50,301.83 L381.50,302.41 L382.50,302.98 L383.50,303.56 L384.50,304.14 L385.50,304.71 L386.50,305.29 L387.50,305.86 L388.50,306.44 L389.50,307.01 L390.50,307.59 L391.50,308.16 L392.50,308.74 L393.50,309.31 L394.50,309.89 L395.50,310.46 L396.50,311.03 L397.50,311.60 L398.50,312.18 L399.50,312.75 L400.50,313.32 L401.50,313.89 L402.50,314.46 L403.50,315.03 L404.50,315.61 L405.50,316.18 L406.50,316.75 L407.50,317.32 L408.50,317.89 L409.50,318.46 L410.50,319.03 L411.50,319.60 L412.50,320.17 L413.50,320.74 L414.50,321.31 L415.50,321.88 L416.50,322.45 L417.50,323.02 L418.50,323.59 L419.50,324.16 L420.50,324.73 L421.50,325.30 L422.50,325.86 L423.50,326.43 L424.50,327.00 L425.50,327.57 L426.50,328.14 L427.50,328.71 L428.50,329.28 L429.50,329.85 L430.50,330.42 L431.50,330.99 L432.50,331.56 L433.50,332.13 L434.50,332.70 L435.50,333.27 L436.50,333.84 L437.50,334.40 L438.50,334.97 L439.50,335.54 L440.50,336.11 L441.50,336.68 L442.50,337.25 L443.50,337.82 L444.50,338.39 L445.50,338.96 L446.50,339.53 L447.50,340.10 L448.50,340.67 L449.50,341.24 L450.50,341.81 L451.50,342.38 L452.50,342.95 L453.50,343.52 L454.50,344.09 L455.50,344.66 L456.50,345.23 L457.50,345.80 L458.50,346.37 L459.50,346.94 L460.50,347.51 L461.50,348.08 L462.50,348.65 L463.50,349.22 L464.50,349.79 L465.50,350.36 L466.50,350.94 L467.50,351.51 L468.50,352.08 L469.50,352.65 L470.50,353.22 L471.50,353.79 L472.50,354.36 L473.50,354.93 L474.50,355.50 L475.50,356.08 L476.50,356.65 L477.50,357.22 L478.50,357.79 L479.50,358.36 L480.50,358.93 L481.50,359.51 L482.50,360.08 L483.50,360.65 L484.50,361.22 L485.50,361.80 L486.50,362.37 L487.50,362.95 L488.50,363.52 L489.50,364.10 L490.50,364.67 L491.50,365.25 L492.50,365.82 L493.50,366.40 L494.50,366.98 L495.50,367.56 L496.50,368.14 L497.50,368.73 L498.50,369.31 L499.50,369.89 L500.50,370.48 L501.50,371.06 L502.50,371.65 L503.50,372.24 L504.50,372.83 L505.50,373.42 L506.50,374.01 L507.50,374.61 L508.50,375.21 L509.50,375.81 L510.50,376.41 L511.50,377.01 L512.50,377.62 L513.50,378.23 L514.50,378.84 L515.50,379.46 L516.50,380.08 L517.50,380.70 L518.50,381.33 L519.50,381.96 L520.50,382.60 L521.50,383.25 L522.50,383.90 L523.50,384.56 L524.50,385.22 L525.50,385.89 L526.50,386.58 L527.50,387.27 L528.50,387.97 L529.50,388.69 L530.50,389.42 L531.50,390.16 L532.50,390.93 L533.50,391.71 L534.50,392.51 L535.50,393.34 L536.50,394.19 L537.50,395.08 L538.50,396.01 L539.50,396.98 L540.50,398.00 L541.50,399.08 L542.50,400.24 L543.50,401.50 L544.50,402.87 L545.50,404.41 L546.50,406.16 L547.50,408.22 L548.20,409.93 L548.70,415.80 L550.30,426.00 L551.50,433.80" stroke="#77AC30"/>
</g>
<path d="M77.6,9.5H671.0V477.6H77.6ZM77.60,477.6v-6.2M77.60,9.5v6.2M143.53,477.6v-6.2M143.53,9.5v6.2M209.47,477.6v-6.2M209.47,9.5v6.2M275.40,477.6v-6.2M275.40,9.5v6.2M341.33,477.6v-6.2M341.33,9.5v6.2M407.27,477.6v-6.2M407.27,9.5v6.2M473.20,477.6v-6.2M473.20,9.5v6.2M539.13,477.6v-6.2M539.13,9.5v6.2M605.07,477.6v-6.2M605.07,9.5v6.2M671.00,477.6v-6.2M671.00,9.5v6.2M77.6,9.50h6.2M671.0,9.50h-6.2M77.6,28.22h3.6M671.0,28.22h-3.6M77.6,46.95h3.6M671.0,46.95h-3.6M77.6,65.67h3.6M671.0,65.67h-3.6M77.6,84.40h3.6M671.0,84.40h-3.6M77.6,103.12h6.2M671.0,103.12h-6.2M77.6,121.84h3.6M671.0,121.84h-3.6M77.6,140.57h3.6M671.0,140.57h-3.6M77.6,159.29h3.6M671.0,159.29h-3.6M77.6,178.02h3.6M671.0,178.02h-3.6M77.6,196.74h6.2M671.0,196.74h-6.2M77.6,215.46h3.6M671.0,215.46h-3.6M77.6,234.19h3.6M671.0,234.19h-3.6M77.6,252.91h3.6M671.0,252.91h-3.6M77.6,271.64h3.6M671.0,271.64h-3.6M77.6,290.36h6.2M671.0,290.36h-6.2M77.6,309.08h3.6M671.0,309.08h-3.6M77.6,327.81h3.6M671.0,327.81h-3.6M77.6,346.53h3.6M671.0,346.53h-3.6M77.6,365.26h3.6M671.0,365.26h-3.6M77.6,383.98h6.2M671.0,383.98h-6.2M77.6,402.70h3.6M671.0,402.70h-3.6M77.6,421.43h3.6M671.0,421.43h-3.6M77.6,440.15h3.6M671.0,440.15h-3.6M77.6,458.88h3.6M671.0,458.88h-3.6M77.6,477.60h6.2M671.0,477.60h-6.2" fill="none" stroke="#2c2c2c" stroke-width="1.12"/>
<g class="sans" font-size="17.7" fill="#111" stroke="#111" stroke-width="0.3" text-anchor="middle">
<text x="77.60" y="503.9">0</text>
<text x="143.53" y="503.9">20</text>
<text x="209.47" y="503.9">40</text>
<text x="275.40" y="503.9">60</text>
<text x="341.33" y="503.9">80</text>
<text x="407.27" y="503.9">100</text>
<text x="473.20" y="503.9">120</text>
<text x="539.13" y="503.9">140</text>
<text x="605.07" y="503.9">160</text>
<text x="671.00" y="503.9">180</text>
</g>
<g class="sans" font-size="17.7" fill="#111" stroke="#111" stroke-width="0.3">
<text x="70.8" y="18.90" text-anchor="end"><tspan>10</tspan><tspan font-size="14.5" dy="-7.8">0</tspan></text>
<text x="69.6" y="112.52" text-anchor="end"><tspan>10</tspan><tspan font-size="14.5" dy="-7.8">-5</tspan></text>
<text x="69.6" y="206.14" text-anchor="end"><tspan>10</tspan><tspan font-size="14.5" dy="-7.8">-10</tspan></text>
<text x="69.6" y="299.76" text-anchor="end"><tspan>10</tspan><tspan font-size="14.5" dy="-7.8">-15</tspan></text>
<text x="69.6" y="393.38" text-anchor="end"><tspan>10</tspan><tspan font-size="14.5" dy="-7.8">-20</tspan></text>
<text x="69.6" y="487.00" text-anchor="end"><tspan>10</tspan><tspan font-size="14.5" dy="-7.8">-25</tspan></text>
</g>
<g class="serif" fill="#111" stroke="#111" stroke-width="0.12">
<text x="253.2" y="526.5" font-size="20" textLength="113.6" lengthAdjust="spacingAndGlyphs">Transmission</text>
<text x="374.6" y="526.5" font-size="20" textLength="71.2" lengthAdjust="spacingAndGlyphs">distance</text>
<text x="454.2" y="526.5" font-size="20" textLength="39.8" lengthAdjust="spacingAndGlyphs">(km)</text>
<g transform="translate(16.3,359.4) rotate(-90)">
<text x="0" y="0" font-size="20" textLength="52.7" lengthAdjust="spacingAndGlyphs">Secret</text>
<text x="58.6" y="0" font-size="20" textLength="30.4" lengthAdjust="spacingAndGlyphs">key</text>
<text x="96.8" y="0" font-size="20" textLength="34.3" lengthAdjust="spacingAndGlyphs">rate</text>
<text x="138.9" y="0" font-size="20" textLength="29.4" lengthAdjust="spacingAndGlyphs">(bit</text>
<text x="170.2" y="0" font-size="20" textLength="9.6" lengthAdjust="spacingAndGlyphs">/</text>
<text x="180.6" y="0" font-size="20" textLength="43.6" lengthAdjust="spacingAndGlyphs">pulse</text>
<text x="224.6" y="0" font-size="20" textLength="6.6" lengthAdjust="spacingAndGlyphs">)</text>
</g>
</g>
<rect x="418.1" y="39.5" width="204.9" height="173.2" fill="#fff" stroke="#222" stroke-width="1.15"/>
<g class="serif" font-size="17.5" fill="#111" stroke="#111" stroke-width="0.08">
<text x="436.8" y="63" textLength="155.5" lengthAdjust="spacingAndGlyphs">Fog particles radius</text>
<text x="515.4" y="87.6" textLength="58.3" lengthAdjust="spacingAndGlyphs">Normal</text>
<clipPath id="cc"><rect x="500" y="90" width="120" height="19.6"/></clipPath>
<text x="516.7" y="110" textLength="79.8" lengthAdjust="spacingAndGlyphs" clip-path="url(#cc)">conditions</text>
<text x="507.2" y="125.5" textLength="12" lengthAdjust="spacingAndGlyphs">R</text>
<text x="526.9" y="125.5" textLength="12.6" lengthAdjust="spacingAndGlyphs">=</text>
<text x="547.1" y="125.5" textLength="20.9" lengthAdjust="spacingAndGlyphs">0.5</text>
<text x="576.2" y="125.5" textLength="25.3" lengthAdjust="spacingAndGlyphs"><tspan font-style="italic">μ</tspan>m</text>
<text x="509.2" y="147.4" textLength="12" lengthAdjust="spacingAndGlyphs">R</text>
<text x="528.9" y="147.4" textLength="12.6" lengthAdjust="spacingAndGlyphs">=</text>
<text x="549.1" y="147.4" textLength="20.9" lengthAdjust="spacingAndGlyphs">1.0</text>
<text x="578.2" y="147.4" textLength="25.3" lengthAdjust="spacingAndGlyphs"><tspan font-style="italic">μ</tspan>m</text>
<text x="510.2" y="172" textLength="12" lengthAdjust="spacingAndGlyphs">R</text>
<text x="529.9" y="172" textLength="12.6" lengthAdjust="spacingAndGlyphs">=</text>
<text x="550.1" y="172" textLength="20.9" lengthAdjust="spacingAndGlyphs">1.5</text>
<text x="579.2" y="172" textLength="25.3" lengthAdjust="spacingAndGlyphs"><tspan font-style="italic">μ</tspan>m</text>
<text x="510.2" y="195" textLength="12" lengthAdjust="spacingAndGlyphs">R</text>
<text x="529.9" y="195" textLength="12.6" lengthAdjust="spacingAndGlyphs">=</text>
<text x="550.1" y="195" textLength="20.9" lengthAdjust="spacingAndGlyphs">2.0</text>
<text x="579.2" y="195" textLength="25.3" lengthAdjust="spacingAndGlyphs"><tspan font-style="italic">μ</tspan>m</text>
</g>
<g fill="none" stroke-width="1.1">
<line x1="441" y1="93.1" x2="504" y2="91.2" stroke="#0072BD"/>
<line x1="441" y1="121.6" x2="504" y2="120.0" stroke="#D95319" stroke-dasharray="56.4 1.6 20"/>
<line x1="442.5" y1="143.8" x2="505.5" y2="141.7" stroke="#EDB120" stroke-dasharray="54.9 2.2 20"/>
<line x1="444.1" y1="169.5" x2="507" y2="167.5" stroke="#7E2F8E" stroke-dasharray="55.4 1.6 20"/>
<line x1="445.3" y1="190.1" x2="508.2" y2="188.0" stroke="#77AC30"/>
</g>
</svg>
</body></html>
